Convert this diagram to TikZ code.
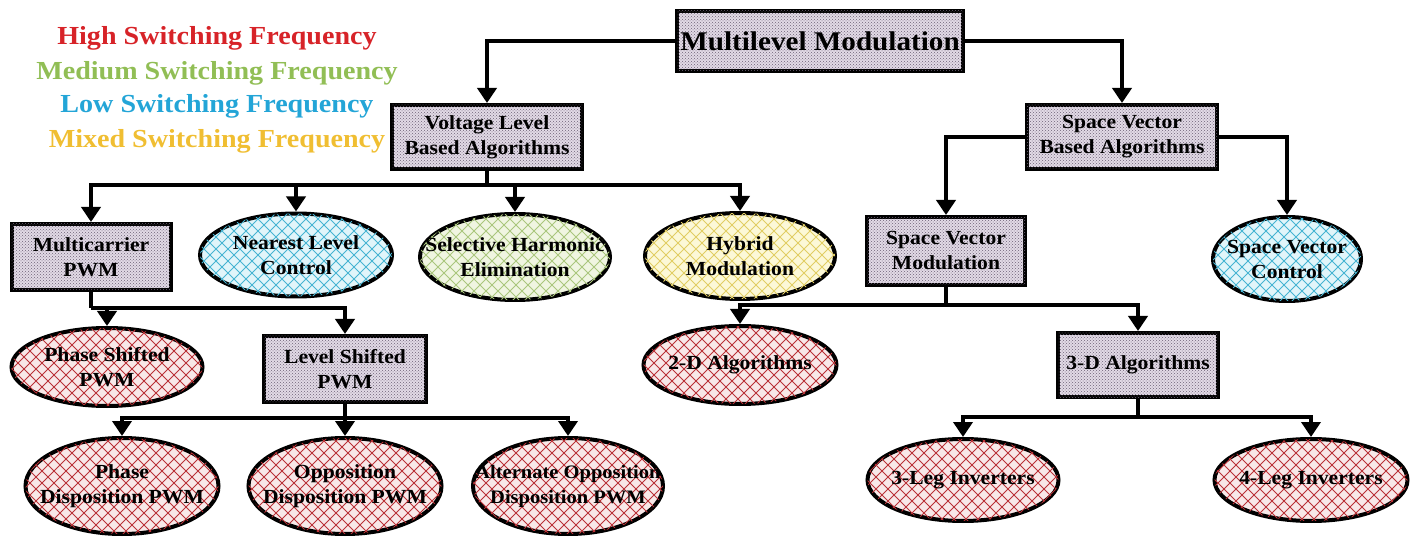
\documentclass[tikz,border=0pt]{standalone}
\usepackage{fontspec}
\newfontfamily\tnr[FakeStretch=1.08]{Liberation Serif}
\usetikzlibrary{shapes.geometric,arrows.meta,patterns}
\definecolor{hicol}{RGB}{215,35,40}
\definecolor{medcol}{RGB}{145,190,85}
\definecolor{locol}{RGB}{35,165,215}
\definecolor{mixcol}{RGB}{240,190,50}
\definecolor{boxbg}{RGB}{226,218,230}
\definecolor{boxdot}{RGB}{110,98,118}
\definecolor{redbg}{RGB}{248,232,232}
\definecolor{redln}{RGB}{185,50,55}
\definecolor{cyanbg}{RGB}{225,245,250}
\definecolor{cyanln}{RGB}{70,180,210}
\definecolor{grnbg}{RGB}{240,245,225}
\definecolor{grnln}{RGB}{170,198,125}
\definecolor{yelbg}{RGB}{252,248,215}
\definecolor{yelln}{RGB}{225,205,100}
\pgfdeclarepatternformonly{lattice}{\pgfqpoint{-1pt}{-1pt}}{\pgfqpoint{13pt}{13pt}}{\pgfqpoint{12pt}{12pt}}{%
  \pgfsetlinewidth{0.9pt}%
  \pgfpathmoveto{\pgfqpoint{0pt}{0pt}}\pgfpathlineto{\pgfqpoint{12pt}{12pt}}%
  \pgfpathmoveto{\pgfqpoint{0pt}{12pt}}\pgfpathlineto{\pgfqpoint{12pt}{0pt}}%
  \pgfusepath{stroke}}
\newcommand\ndfont{\tnr\bfseries\fontsize{20}{25}\selectfont}
\newcommand\lgfont{\tnr\bfseries\fontsize{26}{30}\selectfont}
\tikzset{
  boxn/.style={draw, line width=4pt, rectangle, inner sep=0pt, fill=boxbg,
    postaction={pattern=crosshatch dots, pattern color=boxdot},
    font=\ndfont, align=center},
  ovl/.style={draw, line width=4pt, ellipse, inner sep=0pt},
  redov/.style={ovl, fill=redbg, postaction={pattern=lattice, pattern color=redln}},
  cyanov/.style={ovl, fill=cyanbg, postaction={pattern=lattice, pattern color=cyanln}},
  grnov/.style={ovl, fill=grnbg, postaction={pattern=lattice, pattern color=grnln}},
  yelov/.style={ovl, fill=yelbg, postaction={pattern=lattice, pattern color=yelln}},
  ovtext/.style={font=\ndfont, align=center, inner sep=0pt},
  conn/.style={line width=4pt},
  arr/.style={line width=4pt, -{Triangle[length=15pt,width=19pt]}},
  legend/.style={font=\lgfont, anchor=base, inner sep=0pt}
}
\begin{document}
\begin{tikzpicture}[x=1pt,y=-1pt]
\useasboundingbox (0,0) rectangle (1417,537);
% legend
\node[legend, text=hicol]  (lg1) at (217,45)  {High Switching Frequency};
\node[legend, text=medcol] (lg2) at (217,80)  {Medium Switching Frequency};
\node[legend, text=locol]  (lg3) at (217,113) {Low Switching Frequency};
\node[legend, text=mixcol] (lg4) at (217,148) {Mixed Switching Frequency};
% boxes
\node[boxn, minimum width=286pt, minimum height=60pt, font=\tnr\bfseries\fontsize{27}{30}\selectfont] (mm) at (820,41) {Multilevel Modulation};
\node[boxn, minimum width=190pt, minimum height=64pt] (vlba) at (487,137) {Voltage Level\\Based Algorithms};
\node[boxn, minimum width=190pt, minimum height=64pt] (svba) at (1122,137) {Space Vector\\Based Algorithms};
\node[boxn, minimum width=159pt, minimum height=66pt] (mpwm) at (91,257) {Multicarrier\\PWM};
\node[boxn, minimum width=158pt, minimum height=68pt] (svm) at (946,251) {Space Vector\\Modulation};
\node[boxn, minimum width=162pt, minimum height=66pt] (lspwm) at (345,369) {Level Shifted\\PWM};
\node[boxn, minimum width=160pt, minimum height=64pt] (threed) at (1138,365) {3-D Algorithms};
% ellipses
\node[cyanov, minimum width=192pt, minimum height=83pt] (nlc) at (296,255) {};
\node[ovtext] (nlct) at (nlc) {Nearest Level\\Control};
\node[grnov, minimum width=190pt, minimum height=86pt] (she) at (515,257) {};
\node[ovtext] (shet) at (she) {Selective Harmonic\\Elimination};
\node[yelov, minimum width=190pt, minimum height=86pt] (hyb) at (740,256) {};
\node[ovtext] (hybt) at (hyb) {Hybrid\\Modulation};
\node[cyanov, minimum width=148pt, minimum height=84pt] (svc) at (1287,259) {};
\node[ovtext] (svct) at (svc) {Space Vector\\Control};
\node[redov, minimum width=191pt, minimum height=78pt] (pspwm) at (107,367) {};
\node[ovtext] (pspwmt) at (pspwm) {Phase Shifted\\PWM};
\node[redov, minimum width=193pt, minimum height=96pt] (pd) at (122,486) {};
\node[ovtext] (pdt) at (pd) {Phase\\Disposition PWM};
\node[redov, minimum width=193pt, minimum height=96pt] (od) at (345,486) {};
\node[ovtext] (odt) at (od) {Opposition\\Disposition PWM};
\node[redov, minimum width=190pt, minimum height=96pt] (aod) at (568,486) {};
\node[ovtext, font=\tnr\bfseries\fontsize{19}{25}\selectfont] (aodt) at (aod) {Alternate Opposition\\Disposition PWM};
\node[redov, minimum width=193pt, minimum height=78pt] (twod) at (740,365) {};
\node[ovtext] (twodt) at (twod) {2-D Algorithms};
\node[redov, minimum width=191pt, minimum height=82pt] (leg3) at (963,480) {};
\node[ovtext] (leg3t) at (leg3) {3-Leg Inverters};
\node[redov, minimum width=193pt, minimum height=82pt] (leg4) at (1311,480) {};
\node[ovtext] (leg4t) at (leg4) {4-Leg Inverters};
% connectors
\draw[arr] (mm.west) -| (vlba.north);
\draw[arr] (mm.east) -| (svba.north);
\coordinate (vb) at (487,185);
\draw[conn] (vlba.south) -- (vb);
\draw[arr] (vb) -| (mpwm.north);
\draw[arr] (vb) -| (nlc.north);
\draw[arr] (vb) -| (she.north);
\draw[arr] (vb) -| (hyb.north);
\draw[arr] (svba.west) -| (svm.north);
\draw[arr] (svba.east) -| (svc.north);
\coordinate (mb) at (91,308);
\draw[conn] (mpwm.south) -- (mb);
\draw[arr] (mb) -| (pspwm.north);
\draw[arr] (mb) -| (lspwm.north);
\coordinate (lb) at (345,418);
\draw[conn] (lspwm.south) -- (lb);
\draw[arr] (lb) -| (pd.north);
\draw[arr] (lb) -- (od.north);
\draw[arr] (lb) -| (aod.north);
\coordinate (sb) at (946,305);
\draw[conn] (svm.south) -- (sb);
\draw[arr] (sb) -| (twod.north);
\draw[arr] (sb) -| (threed.north);
\coordinate (tb) at (1138,417);
\draw[conn] (threed.south) -- (tb);
\draw[arr] (tb) -| (leg3.north);
\draw[arr] (tb) -| (leg4.north);
\end{tikzpicture}
\end{document}
